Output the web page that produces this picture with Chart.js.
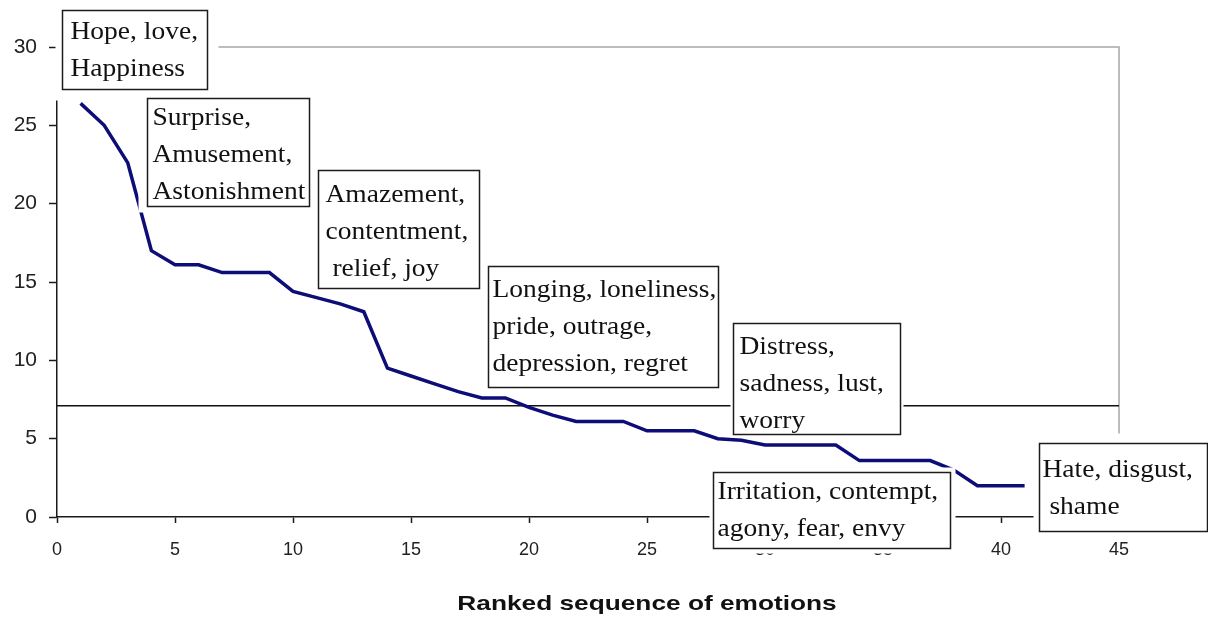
<!DOCTYPE html>
<html>
<head>
<meta charset="utf-8">
<title>Ranked sequence of emotions</title>
<script src="https://cdn.jsdelivr.net/npm/chart.js@4.4.1/dist/chart.umd.min.js"></script>
<style>
  html, body { margin: 0; padding: 0; background: #fff; }
  canvas { display: block; }
</style>
</head>
<body>
<canvas id="myChart" width="1208" height="619"></canvas>
<script>
const ranks = [
  1, 2, 3, 4, 5, 6, 7, 8, 9, 10, 11, 12, 13, 14, 15, 16, 17, 18, 19, 20, 21,
  22, 23, 24, 25, 26, 27, 28, 29, 30, 31, 32, 33, 34, 35, 36, 37, 38, 39, 40, 41,
];
const scores = [
  26.4, 25.0, 22.6, 17.0, 16.1, 16.1, 15.6, 15.6, 15.6, 14.4, 14.0, 13.6, 13.1,
  9.5, 9.0, 8.5, 8.0, 7.6, 7.6, 7.0, 6.5, 6.1, 6.1, 6.1, 5.5, 5.5, 5.5, 5.0,
  4.9, 4.6, 4.6, 4.6, 4.6, 3.6, 3.6, 3.6, 3.6, 3.0, 2.0, 2.0, 2.0,
];
const meanX = [0, 45];
const meanY = [7.1, 7.1];
const xTicks = [0, 5, 10, 15, 20, 25, 30, 35, 40, 45];
const yTicks = [0, 5, 10, 15, 20, 25, 30];
const xTitle = "Ranked sequence of emotions";
const groupLabels = [
  ["Hope, love,", "Happiness"],
  ["Surprise,", "Amusement,", "Astonishment"],
  ["Amazement,", "contentment,", " relief, joy"],
  ["Longing, loneliness,", "pride, outrage,", "depression, regret"],
  ["Distress,", "sadness, lust,", "worry"],
  ["Irritation, contempt,", "agony, fear, envy"],
  ["Hate, disgust,", " shame"],
];

// where each note box sits (top-left corner in axis units, size in px)
// margin = white edge round the box: [top, right, bottom, left]
const boxLayout = [
  { x: 0.21, y: 32.36, w: 145, h: 79, padX: 8, firstY: 22, margin: [4, 11, 11, 7] },
  { x: 3.81, y: 26.74, w: 162, h: 108, padX: 5, firstY: 20, margin: [6, 6, 6, 9] },
  { x: 11.06, y: 22.15, w: 161, h: 118, padX: 7, firstY: 25, margin: [6, 6, 6, 6] },
  { x: 18.26, y: 16.02, w: 230, h: 121, padX: 4, firstY: 24, margin: [6, 6, 6, 6] },
  { x: 28.64, y: 12.38, w: 167, h: 111, padX: 6, firstY: 24, margin: [3, 3, 3, 3] },
  { x: 27.8, y: 2.87, w: 237, h: 76, padX: 4, firstY: 20, margin: [5, 5, 5, 4] },
  { x: 41.61, y: 4.72, w: 168, h: 88, padX: 3, firstY: 27, margin: [10, 0, 6, 6] },
];

const notesPlugin = {
  id: "notes",
  beforeDatasetsDraw(chart) {
    const { ctx, chartArea: a } = chart;
    ctx.save();
    ctx.strokeStyle = "#a8a8a8";
    ctx.lineWidth = 1.5;
    ctx.beginPath();
    ctx.moveTo(a.left, a.top);
    ctx.lineTo(a.right, a.top);
    ctx.lineTo(a.right, a.bottom);
    ctx.stroke();
    ctx.restore();
  },
  afterDraw(chart) {
    const { ctx, scales } = chart;
    ctx.save();
    groupLabels.forEach((lines, i) => {
      const b = boxLayout[i];
      const [mt, mr, mb, ml] = b.margin;
      const left = Math.round(scales.x.getPixelForValue(b.x)) + 0.5;
      const top = Math.round(scales.y.getPixelForValue(b.y)) + 0.5;
      ctx.fillStyle = "#fff";
      ctx.fillRect(left - ml, top - mt, b.w + ml + mr, b.h + mt + mb);
      ctx.strokeStyle = "#1c1c1c";
      ctx.lineWidth = 1.5;
      ctx.strokeRect(left, top, b.w, b.h);
      ctx.fillStyle = "#111";
      ctx.font = "25px 'Liberation Serif'";
      ctx.textBaseline = "middle";
      lines.forEach((t, j) => {
        ctx.save();
        ctx.translate(left + b.padX, top + b.firstY + j * 37);
        ctx.scale(1.1, 1);
        ctx.fillText(t, 0, 0);
        ctx.restore();
      });
    });

    // axis title, drawn here so it can sit where the original had it
    const a = chart.chartArea;
    ctx.font = "bold 21px 'Liberation Sans'";
    ctx.fillStyle = "#111";
    ctx.textAlign = "center";
    ctx.textBaseline = "middle";
    ctx.translate(scales.x.getPixelForValue(25.0), a.bottom + 87);
    ctx.scale(1.25, 1);
    ctx.fillText(xTitle, 0, 0);
    ctx.restore();
  },
};

const tickGrid = (len) => ({
  drawOnChartArea: false,
  drawTicks: true,
  tickLength: len,
  tickWidth: 1.5,
  color: "#1a1a1a",
});

new Chart(document.getElementById("myChart"), {
  type: "line",
  data: {
    datasets: [
      {
        label: "Ranked emotions",
        data: ranks.map((r, i) => ({ x: r, y: scores[i] })),
        borderColor: "#0d0d78",
        borderWidth: 3.5,
        pointRadius: 0,
        tension: 0,
        order: 1,
      },
      {
        label: "Mean",
        data: meanX.map((v, i) => ({ x: v, y: meanY[i] })),
        borderColor: "#111",
        borderWidth: 1.3,
        pointRadius: 0,
        order: 2,
      },
    ],
  },
  options: {
    responsive: false,
    animation: false,
    layout: { padding: { top: 47, right: 89, bottom: 0, left: 0 } },
    plugins: {
      legend: { display: false },
      tooltip: { enabled: false },
    },
    scales: {
      x: {
        type: "linear",
        min: 0,
        max: 45,
        afterBuildTicks: (axis) => {
          axis.ticks = xTicks.map((v) => ({ value: v }));
        },
        afterFit: (axis) => {
          axis.height = 102;
        },
        border: { color: "#1a1a1a", width: 1.5 },
        grid: tickGrid(6),
        ticks: {
          color: "#222",
          font: { family: "Liberation Sans", size: 18 },
          padding: 16,
          maxRotation: 0,
        },
      },
      y: {
        min: 0,
        max: 30,
        afterBuildTicks: (axis) => {
          axis.ticks = yTicks.map((v) => ({ value: v }));
        },
        afterFit: (axis) => {
          axis.width = 57;
        },
        border: { color: "#1a1a1a", width: 1.5 },
        grid: tickGrid(8),
        ticks: {
          color: "#222",
          font: { family: "Liberation Sans", size: 21 },
          padding: 12,
        },
      },
    },
  },
  plugins: [notesPlugin],
});
</script>
</body>
</html>
